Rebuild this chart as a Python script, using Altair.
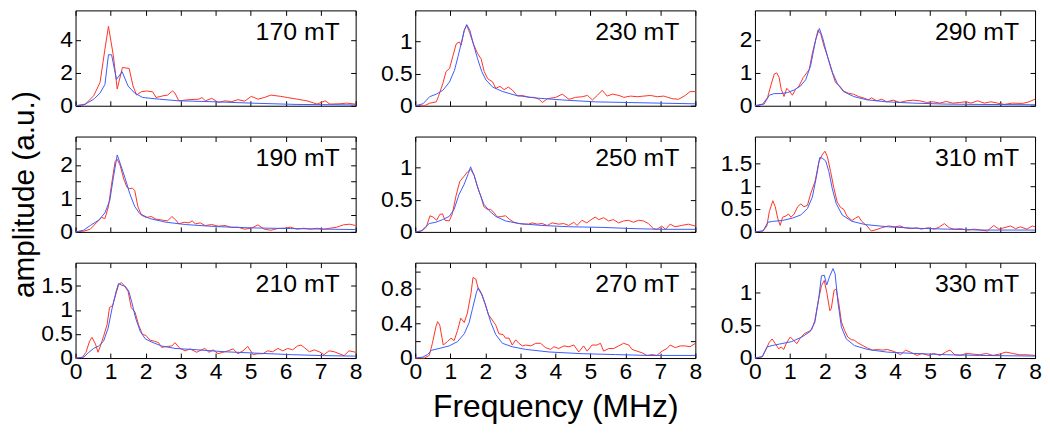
import json
import altair as alt
import pandas as pd

# ---------------- data ----------------
PANEL_NAMES = ["170 mT", "230 mT", "290 mT",
               "190 mT", "250 mT", "310 mT",
               "210 mT", "270 mT", "330 mT"]

RED_170 = [(0, 0), (0.28, 0.1), (0.52, 0.61), (0.7, 1.42), (0.84, 3.45), (0.94, 4.83), (1.08, 3.05),
           (1.19, 1.02), (1.34, 2.33), (1.53, 2.27), (1.64, 1.22), (1.74, 0.65), (1.88, 0.85), (2.02, 0.9),
           (2.2, 0.85), (2.3, 0.5), (2.49, 0.6), (2.63, 0.65), (2.77, 0.9), (2.84, 0.77), (2.95, 0.3),
           (3.24, 0.37), (3.52, 0.4), (3.61, 0.5), (3.71, 0.3), (3.89, 0.45), (4.08, 0.2), (4.27, 0.3),
           (4.46, 0.25), (4.64, 0.37), (4.83, 0.28), (5.02, 0.57), (5.21, 0.4), (5.39, 0.5), (5.58, 0.65),
           (5.86, 0.57), (6.05, 0.5), (6.33, 0.4), (6.61, 0.3), (6.9, 0.1), (7.13, 0.3), (7.27, 0.1),
           (7.55, 0.12), (7.74, 0.16), (8.0, 0.1)]
BLUE_170 = [(0, 0), (0.23, 0.04), (0.52, 0.4), (0.7, 0.77), (0.84, 1.3), (0.94, 3.1), (1.03, 3.1),
            (1.17, 1.6), (1.33, 2.07), (1.5, 1.2), (1.69, 0.77), (1.92, 0.5), (2.39, 0.4), (2.95, 0.3),
            (4.0, 0.24), (5.0, 0.16), (6.3, 0.08), (8.0, 0.05)]

RED_230 = [(0, 0), (0.27, 0.0), (0.41, 0.04), (0.6, 0.06), (0.66, 0.14), (0.79, 0.35), (0.88, 0.53),
           (0.98, 0.58), (1.07, 0.76), (1.17, 0.96), (1.26, 0.99), (1.31, 0.94), (1.4, 1.17), (1.47, 1.25),
           (1.55, 1.14), (1.66, 0.96), (1.78, 0.81), (1.88, 0.73), (1.97, 0.53), (2.07, 0.42), (2.21, 0.37),
           (2.3, 0.27), (2.42, 0.3), (2.54, 0.25), (2.66, 0.29), (2.78, 0.24), (2.92, 0.15), (3.06, 0.16),
           (3.25, 0.13), (3.4, 0.13), (3.54, 0.1), (3.63, 0.05), (3.78, 0.11), (4.01, 0.13), (4.2, 0.18),
           (4.39, 0.1), (4.58, 0.13), (4.77, 0.14), (4.92, 0.16), (5.06, 0.09), (5.2, 0.16), (5.34, 0.24),
           (5.48, 0.15), (5.63, 0.18), (5.82, 0.16), (5.96, 0.13), (6.15, 0.15), (6.34, 0.14), (6.53, 0.15),
           (6.72, 0.16), (6.91, 0.14), (7.1, 0.15), (7.33, 0.11), (7.52, 0.1), (7.71, 0.16), (7.85, 0.22),
           (8.0, 0.22)]
BLUE_230 = [(0, 0), (0.22, 0.03), (0.41, 0.14), (0.6, 0.18), (0.79, 0.24), (0.98, 0.37), (1.12, 0.55),
            (1.22, 0.76), (1.31, 0.96), (1.4, 1.17), (1.47, 1.26), (1.56, 1.17), (1.66, 0.96), (1.78, 0.73),
            (1.9, 0.53), (2.02, 0.4), (2.21, 0.29), (2.5, 0.22), (2.88, 0.16), (3.44, 0.12), (4.2, 0.09),
            (5.15, 0.06), (6.1, 0.05), (7.05, 0.04), (8.0, 0.03)]

RED_290 = [(0, 0), (0.22, 0.05), (0.36, 0.25), (0.45, 0.6), (0.55, 0.96), (0.62, 1.0), (0.69, 0.86),
           (0.75, 0.5), (0.83, 0.28), (0.91, 0.53), (0.97, 0.46), (1.07, 0.32), (1.16, 0.5), (1.26, 0.6),
           (1.38, 0.86), (1.48, 1.0), (1.55, 1.1), (1.64, 1.6), (1.74, 2.03), (1.8, 2.3), (1.88, 2.18),
           (1.97, 1.82), (2.07, 1.51), (2.18, 1.1), (2.3, 0.71), (2.42, 0.6), (2.53, 0.45), (2.67, 0.38),
           (2.82, 0.35), (2.96, 0.28), (3.1, 0.24), (3.24, 0.18), (3.33, 0.24), (3.48, 0.15), (3.62, 0.2),
           (3.76, 0.12), (3.95, 0.17), (4.14, 0.1), (4.33, 0.15), (4.52, 0.17), (4.71, 0.15), (4.9, 0.1),
           (5.09, 0.12), (5.28, 0.08), (5.46, 0.13), (5.65, 0.08), (5.84, 0.1), (6.03, 0.12), (6.17, 0.08),
           (6.36, 0.15), (6.55, 0.08), (6.74, 0.12), (6.93, 0.08), (7.12, 0.04), (7.35, 0.08), (7.64, 0.07),
           (7.83, 0.12), (8.0, 0.2)]
BLUE_290 = [(0, 0), (0.26, 0.05), (0.41, 0.32), (0.55, 0.37), (0.74, 0.37), (0.93, 0.4), (1.12, 0.48),
            (1.3, 0.6), (1.45, 0.79), (1.59, 1.22), (1.74, 2.03), (1.84, 2.35), (1.93, 2.08), (2.07, 1.51),
            (2.22, 1.0), (2.36, 0.66), (2.53, 0.43), (2.82, 0.28), (3.2, 0.18), (3.76, 0.12), (4.52, 0.08),
            (5.46, 0.05), (6.4, 0.04), (8.0, 0.03)]

RED_190 = [(0, 0), (0.23, 0.02), (0.42, 0.08), (0.61, 0.29), (0.75, 0.43), (0.84, 0.4), (0.94, 0.76),
           (1.03, 1.43), (1.13, 2.1), (1.19, 2.17), (1.27, 2.0), (1.38, 1.57), (1.47, 1.33), (1.55, 1.29),
           (1.62, 1.31), (1.69, 1.24), (1.78, 0.76), (1.88, 0.5), (2.02, 0.43), (2.16, 0.46), (2.3, 0.38),
           (2.49, 0.35), (2.63, 0.33), (2.75, 0.46), (2.86, 0.36), (2.95, 0.24), (3.1, 0.29), (3.24, 0.27),
           (3.33, 0.33), (3.42, 0.24), (3.56, 0.27), (3.7, 0.19), (3.89, 0.22), (4.08, 0.17), (4.27, 0.19),
           (4.46, 0.13), (4.64, 0.14), (4.83, 0.08), (5.02, 0.11), (5.21, 0.21), (5.39, 0.08), (5.58, 0.05),
           (5.77, 0.1), (5.96, 0.11), (6.14, 0.14), (6.33, 0.08), (6.52, 0.11), (6.71, 0.08), (6.9, 0.11),
           (7.08, 0.08), (7.27, 0.11), (7.46, 0.14), (7.65, 0.21), (7.83, 0.23), (8.0, 0.19)]
BLUE_190 = [(0, 0), (0.23, 0.05), (0.42, 0.19), (0.66, 0.35), (0.84, 0.57), (0.98, 0.95), (1.08, 1.62),
            (1.19, 2.3), (1.29, 2.0), (1.41, 1.62), (1.55, 1.14), (1.69, 0.76), (1.83, 0.55), (2.11, 0.4),
            (2.58, 0.29), (3.14, 0.22), (3.99, 0.16), (5.02, 0.12), (6.14, 0.1), (7.27, 0.08), (8.0, 0.07)]

RED_250 = [(0, 0), (0.21, 0.02), (0.32, 0.08), (0.42, 0.25), (0.51, 0.23), (0.61, 0.18), (0.7, 0.27),
           (0.78, 0.28), (0.85, 0.18), (0.97, 0.17), (1.06, 0.28), (1.16, 0.55), (1.27, 0.78), (1.39, 0.86),
           (1.49, 0.93), (1.58, 0.97), (1.68, 0.88), (1.77, 0.71), (1.87, 0.56), (1.96, 0.39), (2.06, 0.35),
           (2.15, 0.35), (2.25, 0.3), (2.34, 0.23), (2.47, 0.24), (2.58, 0.25), (2.68, 0.2), (2.82, 0.15),
           (2.96, 0.13), (3.1, 0.12), (3.24, 0.12), (3.34, 0.14), (3.48, 0.12), (3.62, 0.13), (3.77, 0.1),
           (3.91, 0.14), (4.1, 0.12), (4.24, 0.13), (4.38, 0.1), (4.53, 0.15), (4.62, 0.1), (4.76, 0.18),
           (4.9, 0.14), (5.05, 0.2), (5.14, 0.23), (5.24, 0.19), (5.38, 0.22), (5.52, 0.17), (5.66, 0.19),
           (5.81, 0.14), (5.95, 0.17), (6.09, 0.18), (6.23, 0.15), (6.38, 0.18), (6.52, 0.17), (6.66, 0.13),
           (6.8, 0.05), (6.9, 0.04), (7.04, 0.09), (7.15, 0.04), (7.28, 0.12), (7.42, 0.08), (7.61, 0.1),
           (7.8, 0.12), (8.0, 0.09)]
BLUE_250 = [(0, 0), (0.16, 0.01), (0.3, 0.08), (0.4, 0.13), (0.59, 0.15), (0.78, 0.19), (0.97, 0.24),
            (1.11, 0.35), (1.25, 0.58), (1.39, 0.73), (1.52, 0.91), (1.58, 1.01), (1.68, 0.88), (1.82, 0.63),
            (1.96, 0.43), (2.11, 0.33), (2.3, 0.24), (2.58, 0.17), (2.96, 0.13), (3.62, 0.1), (4.38, 0.08),
            (5.33, 0.07), (6.28, 0.05), (7.04, 0.04), (8.0, 0.04)]

RED_310 = [(0, 0), (0.23, 0.02), (0.34, 0.13), (0.41, 0.44), (0.51, 0.68), (0.58, 0.55), (0.65, 0.3),
           (0.72, 0.14), (0.79, 0.32), (0.89, 0.35), (0.96, 0.39), (1.03, 0.32), (1.12, 0.39), (1.22, 0.55),
           (1.31, 0.61), (1.4, 0.55), (1.5, 0.58), (1.59, 0.83), (1.72, 1.11), (1.83, 1.54), (1.92, 1.68),
           (2.0, 1.76), (2.07, 1.64), (2.16, 1.32), (2.25, 0.97), (2.35, 0.65), (2.44, 0.54), (2.54, 0.49),
           (2.63, 0.34), (2.77, 0.25), (2.87, 0.3), (2.96, 0.34), (3.05, 0.23), (3.2, 0.13), (3.32, 0.02),
           (3.43, 0.04), (3.62, 0.09), (3.81, 0.13), (4.0, 0.11), (4.14, 0.13), (4.28, 0.09), (4.47, 0.07),
           (4.61, 0.09), (4.75, 0.06), (4.94, 0.09), (5.13, 0.06), (5.27, 0.11), (5.41, 0.18), (5.55, 0.09),
           (5.69, 0.06), (5.88, 0.07), (6.07, 0.04), (6.26, 0.06), (6.45, 0.04), (6.64, 0.02), (6.82, 0.14),
           (6.97, 0.06), (7.11, 0.09), (7.3, 0.13), (7.44, 0.07), (7.58, 0.11), (7.77, 0.06), (7.92, 0.13),
           (8.0, 0.11)]
BLUE_310 = [(0, 0), (0.23, 0.02), (0.37, 0.21), (0.51, 0.23), (0.79, 0.25), (1.07, 0.3), (1.31, 0.37),
            (1.5, 0.51), (1.64, 0.76), (1.75, 1.18), (1.85, 1.62), (1.92, 1.61), (2.02, 1.55), (2.11, 1.32),
            (2.21, 0.94), (2.32, 0.62), (2.49, 0.37), (2.77, 0.23), (3.15, 0.16), (3.81, 0.11), (4.56, 0.08),
            (5.5, 0.06), (6.45, 0.04), (7.39, 0.04), (8.0, 0.04)]

RED_210 = [(0, 0), (0.19, 0.01), (0.3, 0.12), (0.4, 0.35), (0.47, 0.43), (0.57, 0.29), (0.64, 0.12),
           (0.71, 0.25), (0.8, 0.45), (0.9, 0.69), (0.97, 1.05), (1.06, 1.09), (1.16, 1.35), (1.23, 1.52),
           (1.31, 1.57), (1.4, 1.49), (1.5, 1.39), (1.59, 1.05), (1.7, 0.95), (1.8, 0.69), (1.91, 0.49),
           (2.01, 0.47), (2.13, 0.37), (2.25, 0.35), (2.37, 0.32), (2.46, 0.22), (2.6, 0.24), (2.75, 0.25),
           (2.84, 0.32), (2.98, 0.2), (3.13, 0.15), (3.27, 0.19), (3.46, 0.12), (3.6, 0.17), (3.69, 0.2),
           (3.81, 0.12), (3.93, 0.17), (4.07, 0.09), (4.21, 0.12), (4.36, 0.15), (4.5, 0.19), (4.64, 0.09),
           (4.78, 0.15), (4.92, 0.24), (5.07, 0.07), (5.21, 0.09), (5.35, 0.09), (5.49, 0.15), (5.63, 0.13),
           (5.78, 0.2), (5.92, 0.15), (6.06, 0.2), (6.2, 0.17), (6.34, 0.25), (6.44, 0.27), (6.53, 0.22),
           (6.68, 0.13), (6.82, 0.17), (6.96, 0.13), (7.1, 0.07), (7.24, 0.15), (7.39, 0.13), (7.53, 0.09),
           (7.67, 0.05), (7.81, 0.15), (8.0, 0.12)]
BLUE_210 = [(0, 0), (0.24, 0.02), (0.38, 0.12), (0.52, 0.2), (0.66, 0.25), (0.8, 0.35), (0.93, 0.62),
            (1.04, 1.02), (1.16, 1.39), (1.23, 1.55), (1.33, 1.51), (1.42, 1.49), (1.52, 1.39), (1.61, 1.15),
            (1.72, 0.82), (1.85, 0.55), (1.99, 0.4), (2.18, 0.33), (2.46, 0.25), (2.84, 0.2), (3.5, 0.17),
            (4.26, 0.13), (5.21, 0.1), (6.16, 0.07), (7.1, 0.05), (8.0, 0.04)]

RED_270 = [(0, 0), (0.26, 0.0), (0.4, 0.03), (0.49, 0.17), (0.59, 0.36), (0.64, 0.42), (0.7, 0.38),
           (0.8, 0.15), (0.92, 0.19), (1.02, 0.23), (1.11, 0.2), (1.21, 0.32), (1.3, 0.46), (1.4, 0.41),
           (1.49, 0.52), (1.59, 0.74), (1.65, 0.93), (1.73, 0.91), (1.8, 0.8), (1.9, 0.73), (1.99, 0.63),
           (2.09, 0.5), (2.18, 0.45), (2.3, 0.38), (2.39, 0.28), (2.51, 0.27), (2.58, 0.23), (2.68, 0.23),
           (2.77, 0.15), (2.87, 0.21), (2.96, 0.17), (3.06, 0.14), (3.15, 0.15), (3.3, 0.14), (3.44, 0.17),
           (3.58, 0.17), (3.72, 0.12), (3.87, 0.1), (3.96, 0.13), (4.1, 0.11), (4.25, 0.14), (4.39, 0.13),
           (4.53, 0.15), (4.67, 0.07), (4.81, 0.14), (4.91, 0.08), (5.05, 0.15), (5.19, 0.15), (5.29, 0.17),
           (5.38, 0.08), (5.53, 0.11), (5.67, 0.11), (5.81, 0.14), (5.95, 0.17), (6.1, 0.15), (6.19, 0.1),
           (6.33, 0.08), (6.48, 0.06), (6.62, 0.03), (6.76, 0.04), (6.9, 0.03), (7.05, 0.08), (7.19, 0.11),
           (7.28, 0.15), (7.43, 0.12), (7.57, 0.14), (7.71, 0.14), (7.85, 0.13), (8.0, 0.17)]
BLUE_270 = [(0, 0), (0.21, 0.01), (0.35, 0.04), (0.47, 0.09), (0.68, 0.11), (0.97, 0.14), (1.21, 0.19),
            (1.4, 0.28), (1.54, 0.41), (1.63, 0.56), (1.75, 0.76), (1.8, 0.81), (1.9, 0.74), (2.01, 0.61),
            (2.16, 0.41), (2.3, 0.27), (2.49, 0.17), (2.77, 0.13), (3.15, 0.1), (3.82, 0.07), (4.77, 0.05),
            (5.72, 0.04), (6.67, 0.03), (8.0, 0.03)]

RED_330 = [(0, 0), (0.21, 0.02), (0.32, 0.14), (0.41, 0.24), (0.49, 0.29), (0.58, 0.22), (0.68, 0.14),
           (0.75, 0.17), (0.82, 0.13), (0.91, 0.24), (1.01, 0.32), (1.1, 0.27), (1.2, 0.22), (1.29, 0.3),
           (1.41, 0.37), (1.52, 0.4), (1.62, 0.43), (1.71, 0.57), (1.81, 0.87), (1.9, 1.1), (1.98, 1.18),
           (2.05, 1.0), (2.14, 0.72), (2.18, 0.75), (2.26, 1.03), (2.32, 1.05), (2.39, 0.85), (2.47, 0.55),
           (2.56, 0.42), (2.65, 0.32), (2.75, 0.28), (2.84, 0.27), (2.94, 0.23), (3.08, 0.19), (3.22, 0.15),
           (3.36, 0.12), (3.5, 0.13), (3.64, 0.12), (3.78, 0.13), (3.97, 0.1), (4.16, 0.05), (4.3, 0.12),
           (4.44, 0.09), (4.63, 0.04), (4.77, 0.07), (4.96, 0.04), (5.1, 0.07), (5.29, 0.04), (5.48, 0.1),
           (5.57, 0.12), (5.71, 0.05), (5.86, 0.04), (6.04, 0.07), (6.23, 0.06), (6.42, 0.05), (6.61, 0.07),
           (6.8, 0.04), (6.98, 0.06), (7.17, 0.09), (7.36, 0.07), (7.55, 0.05), (7.74, 0.05), (8.0, 0.04)]
BLUE_330 = [(0, 0), (0.21, 0.02), (0.35, 0.17), (0.49, 0.19), (0.77, 0.22), (1.05, 0.25), (1.34, 0.32),
            (1.57, 0.4), (1.71, 0.54), (1.82, 0.9), (1.9, 1.25), (1.98, 1.26), (2.05, 1.11), (2.14, 1.25),
            (2.23, 1.36), (2.29, 1.28), (2.37, 0.85), (2.47, 0.47), (2.61, 0.29), (2.84, 0.19), (3.22, 0.13),
            (3.78, 0.09), (4.54, 0.07), (5.48, 0.05), (6.42, 0.04), (8.0, 0.03)]

RED_SERIES = [RED_170, RED_230, RED_290, RED_190, RED_250, RED_310, RED_210, RED_270, RED_330]
BLUE_SERIES = [BLUE_170, BLUE_230, BLUE_290, BLUE_190, BLUE_250, BLUE_310, BLUE_210, BLUE_270, BLUE_330]

Y_MAX = [5.8, 1.48, 2.9, 2.85, 1.48, 2.08, 1.98, 1.1, 1.45]
Y_TICKS = [[0, 2, 4], [0, 0.5, 1], [0, 1, 2],
           [0, 0.5, 1, 1.5, 2, 2.5], [0, 0.5, 1], [0, 0.5, 1, 1.5],
           [0, 0.5, 1, 1.5], [0, 0.2, 0.4, 0.6, 0.8, 1.0], [0, 0.5, 1]]
Y_LABELS = [[0, 2, 4], [0, 0.5, 1], [0, 1, 2],
            [0, 1, 2], [0, 0.5, 1], [0, 0.5, 1, 1.5],
            [0, 0.5, 1, 1.5], [0, 0.4, 0.8], [0, 0.5, 1]]
X_TICKS = [0, 1, 2, 3, 4, 5, 6, 7, 8]

X_TITLE = "Frequency (MHz)"
Y_TITLE = "amplitude (a.u.)"

# ---------------- style ----------------
RED_C = "#ff3322"
BLUE_C = "#3a5cff"
FONT = "Liberation Sans"
W, H = 282, 96
TICK_FS = 23


def panel(i):
    row = i // 3
    red = pd.DataFrame(RED_SERIES[i], columns=["f", "a"])
    blue = pd.DataFrame(BLUE_SERIES[i], columns=["f", "a"])
    xs = alt.Scale(domain=[0, 8], nice=False, zero=False)
    ys = alt.Scale(domain=[0, Y_MAX[i]], nice=False)
    label_expr = ("indexof(%s, datum.value) >= 0 ? format(datum.value, '~g') : ''"
                  % json.dumps(Y_LABELS[i]))

    if i == 7:
        x_kw = dict(title=X_TITLE, titleFontSize=32, titleFontWeight="normal",
                    titlePadding=8, titleColor="black")
    else:
        x_kw = dict(title=None)
    if i == 3:
        y_kw = dict(title=Y_TITLE, titleFontSize=30, titleFontWeight="normal",
                    titlePadding=21, titleColor="black", titleY=H / 2 + 10)
    else:
        y_kw = dict(title=None)

    x_bottom = alt.Axis(orient="bottom", values=X_TICKS, offset=-5, tickSize=5, domain=False,
                        grid=False, labels=(row == 2), labelFontSize=TICK_FS, labelPadding=3,
                        labelFlush=False, labelOverlap=False, minExtent=0, format="d", **x_kw)
    y_left = alt.Axis(orient="left", values=Y_TICKS[i], offset=-5, tickSize=5, domain=False,
                      grid=False, labelExpr=label_expr, labelFontSize=TICK_FS, labelPadding=3,
                      labelOverlap=False, minExtent=0, **y_kw)
    x_top = alt.Axis(orient="top", values=X_TICKS, offset=-5, tickSize=5, domain=False,
                     grid=False, labels=False, title=None, minExtent=0)
    y_right = alt.Axis(orient="right", values=Y_TICKS[i], offset=-5, tickSize=5, domain=False,
                       grid=False, labels=False, title=None, minExtent=0)

    red_line = alt.Chart(red).mark_line(color=RED_C, strokeWidth=1).encode(
        x=alt.X("f:Q", scale=xs, axis=x_bottom),
        y=alt.Y("a:Q", scale=ys, axis=y_left),
    )
    blue_line = alt.Chart(blue).mark_line(color=BLUE_C, strokeWidth=1).encode(
        x=alt.X("f:Q", scale=xs, axis=x_top),
        y=alt.Y("a:Q", scale=ys, axis=y_right),
    )
    label = alt.Chart(pd.DataFrame({"t": [PANEL_NAMES[i]]})).mark_text(
        align="right", baseline="alphabetic", fontSize=25, color="black", font=FONT
    ).encode(text="t:N", x=alt.value(W - 16), y=alt.value(30))

    return alt.layer(red_line, blue_line, label).resolve_axis(
        x="independent", y="independent"
    ).properties(width=W, height=H)


panels = [panel(i) for i in range(9)]

chart = alt.concat(
    *panels, columns=3, spacing={"row": 31, "column": 60}, bounds="flush"
).properties(
    padding=0
).configure(
    font=FONT
).configure_view(
    stroke="black", strokeWidth=1
).configure_axis(
    tickColor="black", tickWidth=1, labelColor="black", labelFont=FONT, titleFont=FONT
)

chart.save("out.html", embed_options={"renderer": "svg", "actions": False})
